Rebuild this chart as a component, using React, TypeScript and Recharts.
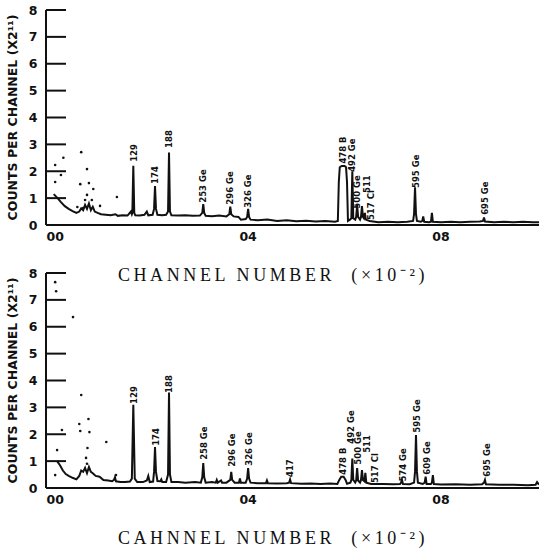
import { ComposedChart, Line, Scatter, XAxis, YAxis } from "recharts"

// channel, counts (x2^11)
type Pt = [number, number]
// channel, label centre height, text
type Peak = [number, number, string]

const X_TICKS = [0, 400, 800]
const X_TICK_LABELS: Record<number, string> = { 0: "00", 400: "04", 800: "08" }
const Y_TICKS = [0, 1, 2, 3, 4, 5, 6, 7, 8]

const TOP_SPECTRUM: Pt[] = [
  [-3, 1.15], [5, 1.0], [12, 0.85], [20, 0.7], [28, 0.6], [36, 0.52], [44, 0.45], [50, 0.5],
  [54, 0.62], [58, 0.55], [62, 0.75], [66, 0.6], [70, 0.8], [74, 0.55], [78, 0.68], [82, 0.5],
  [88, 0.45], [95, 0.4], [105, 0.38], [115, 0.36], [125, 0.4], [130, 0.34], [140, 0.36], [150, 0.35],
  [157, 0.5], [159, 0.4], [160, 0.45], [162, 2.2], [164, 0.45], [166, 0.36], [175, 0.35], [185, 0.38],
  [190, 0.5], [193, 0.36], [202, 0.38], [205, 0.6], [207, 1.45], [209, 0.6], [212, 0.38], [222, 0.36],
  [230, 0.38], [234, 0.5], [236, 2.7], [238, 0.5], [241, 0.36], [255, 0.35], [270, 0.36], [285, 0.34],
  [300, 0.35], [305, 0.45], [307, 0.78], [309, 0.45], [312, 0.34], [325, 0.33], [340, 0.35], [355, 0.32],
  [361, 0.4], [363, 0.68], [365, 0.4], [370, 0.32], [380, 0.3], [385, 0.2], [395, 0.22], [398, 0.3],
  [400, 0.6], [402, 0.3], [405, 0.2], [420, 0.18], [440, 0.2], [460, 0.15], [480, 0.18], [500, 0.14],
  [520, 0.16], [540, 0.13], [560, 0.15], [580, 0.12], [586, 0.15], [588, 1.6], [590, 2.15], [594, 2.2],
  [600, 2.2], [603, 2.15], [605, 1.6], [607, 0.15], [611, 0.2], [614, 0.25], [616, 2.0], [618, 0.25],
  [622, 0.2], [624, 0.3], [626, 0.75], [628, 0.3], [632, 0.2], [634, 0.3], [636, 0.7], [638, 0.3],
  [640, 0.25], [642, 0.45], [644, 0.2], [652, 0.15], [670, 0.1], [690, 0.12], [710, 0.1], [730, 0.12],
  [742, 0.15], [744, 0.4], [746, 1.4], [748, 0.4], [750, 0.15], [758, 0.12], [761, 0.15], [763, 0.32],
  [765, 0.12], [775, 0.1], [779, 0.12], [781, 0.45], [783, 0.12], [800, 0.1], [820, 0.12], [840, 0.1],
  [860, 0.12], [880, 0.13], [887, 0.15], [889, 0.28], [891, 0.13], [910, 0.1], [930, 0.12], [950, 0.1],
  [970, 0.12], [990, 0.1], [1003, 0.1],
]

const TOP_DOTS: Pt[] = [
  [0, 2.23], [12, 1.86], [0, 1.6], [17, 2.5], [54, 2.71], [66, 2.08], [52, 1.52], [70, 1.56],
  [79, 1.34], [66, 1.12], [76, 0.93], [93, 0.71], [128, 1.04], [46, 0.67], [58, 0.63], [62, 0.93],
]

const TOP_PEAKS: Peak[] = [
  [164, 2.68, "129"], [207, 1.86, "174"], [236, 3.2, "188"], [307, 1.45, "253 Ge"],
  [363, 1.38, "296 Ge"], [400, 1.26, "326 Ge"], [597, 2.79, "478 B"], [616, 2.6, "492 Ge"],
  [626, 1.23, "500 Ge"], [647, 1.52, "511"], [655, 0.74, "517 Cl"], [748, 2.0, "595 Ge"],
  [891, 1.0, "695 Ge"],
]

const BOTTOM_SPECTRUM: Pt[] = [
  [4, 1.0], [10, 0.85], [16, 0.65], [22, 0.52], [28, 0.45], [36, 0.38], [44, 0.32], [50, 0.45],
  [54, 0.65], [58, 0.6], [62, 0.75], [66, 0.55], [70, 0.78], [74, 0.6], [78, 0.55], [84, 0.45],
  [92, 0.42], [100, 0.3], [110, 0.28], [118, 0.25], [122, 0.3], [124, 0.4], [126, 0.25], [135, 0.22],
  [145, 0.22], [155, 0.24], [159, 0.35], [162, 3.1], [165, 0.35], [170, 0.22], [182, 0.22], [190, 0.28],
  [193, 0.45], [196, 0.22], [203, 0.24], [205, 0.6], [207, 1.52], [209, 0.6], [212, 0.26], [218, 0.25],
  [220, 0.32], [222, 0.22], [230, 0.22], [234, 0.5], [236, 3.55], [238, 0.5], [241, 0.22], [255, 0.22],
  [270, 0.2], [290, 0.22], [302, 0.2], [305, 0.4], [307, 0.93], [309, 0.4], [312, 0.2], [325, 0.22],
  [333, 0.2], [335, 0.3], [337, 0.2], [344, 0.28], [346, 0.2], [355, 0.2], [363, 0.3], [365, 0.6],
  [367, 0.3], [372, 0.2], [381, 0.2], [383, 0.35], [385, 0.2], [395, 0.2], [398, 0.35], [400, 0.74],
  [402, 0.35], [405, 0.2], [420, 0.18], [437, 0.18], [439, 0.28], [441, 0.18], [460, 0.17], [480, 0.18],
  [485, 0.2], [487, 0.32], [489, 0.18], [510, 0.16], [530, 0.17], [550, 0.15], [570, 0.17], [585, 0.15],
  [589, 0.3], [593, 0.42], [598, 0.42], [602, 0.3], [605, 0.16], [612, 0.2], [614, 0.3], [616, 1.1],
  [618, 0.3], [622, 0.2], [624, 0.28], [626, 0.74], [628, 0.28], [632, 0.2], [634, 0.3], [636, 0.67],
  [638, 0.3], [641, 0.25], [643, 0.56], [645, 0.2], [655, 0.15], [680, 0.15], [700, 0.14], [715, 0.15],
  [717, 0.2], [719, 0.3], [721, 0.15], [735, 0.14], [744, 0.2], [746, 0.6], [748, 1.97], [750, 0.6],
  [752, 0.2], [762, 0.15], [766, 0.2], [768, 0.42], [770, 0.15], [779, 0.15], [781, 0.2], [783, 0.48],
  [785, 0.15], [800, 0.13], [830, 0.14], [860, 0.12], [885, 0.14], [889, 0.2], [891, 0.3], [893, 0.14],
  [920, 0.12], [950, 0.12], [980, 0.1], [996, 0.12], [999, 0.22], [1003, 0.12],
]

const BOTTOM_DOTS: Pt[] = [
  [0, 7.66], [2, 7.32], [37, 6.36], [14, 2.16], [4, 1.41], [54, 3.46], [69, 2.57], [52, 2.12],
  [71, 2.08], [50, 2.38], [106, 1.71], [67, 1.49], [64, 1.12], [0, 0.48], [126, 0.48], [66, 0.9],
]

const BOTTOM_PEAKS: Peak[] = [
  [164, 3.46, "129"], [209, 1.9, "174"], [236, 3.87, "188"], [309, 1.67, "258 Ge"],
  [367, 1.41, "296 Ge"], [402, 1.45, "326 Ge"], [487, 0.74, "417"], [597, 1.0, "478 B"],
  [613, 2.27, "492 Ge"], [628, 1.49, "500 Ge"], [647, 1.64, "511"], [663, 0.74, "517 Cl"],
  [721, 0.86, "574 Ge"], [750, 2.68, "595 Ge"], [771, 1.12, "609 Ge"], [895, 1.04, "695 Ge"],
]

const INK = "#111"
const SANS = "'DejaVu Sans', sans-serif"
const SERIF = "'Liberation Serif', 'Times New Roman', serif"

const rows = (pts: Pt[]) => pts.map(([ch, v]) => ({ ch, v }))

function YTick({ x, y, payload }: any) {
  return (
    <g>
      <line x1={x} x2={x + 20} y1={y} y2={y} stroke={INK} strokeWidth={2} />
      <text x={x - 13} y={y} textAnchor="middle" dominantBaseline="central"
        fontFamily={SANS} fontWeight="bold" fontSize={12.5} fill={INK}>
        {payload.value}
      </text>
    </g>
  )
}

function XTick({ x, y, payload }: any) {
  return (
    <text x={x} y={y + 11} textAnchor="middle" dominantBaseline="central"
      fontFamily={SANS} fontWeight="bold" fontSize={12.5} fill={INK}>
      {X_TICK_LABELS[payload.value]}
    </text>
  )
}

function PeakLabel({ cx, cy, payload }: any) {
  return (
    <text x={cx} y={cy} transform={`rotate(-90 ${cx} ${cy})`} textAnchor="middle"
      dominantBaseline="central" fontFamily={SANS} fontWeight="bold" fontSize={8.5} fill={INK}>
      {payload.text}
    </text>
  )
}

function Dot({ cx, cy }: any) {
  return <circle cx={cx} cy={cy} r={1.3} fill={INK} />
}

interface PanelProps {
  spectrum: Pt[]
  dots: Pt[]
  peaks: Peak[]
  title: string
  top: number
}

function Panel({ spectrum, dots, peaks, title, top }: PanelProps) {
  const peakRows = peaks.map(([ch, v, text]) => ({ ch, v, text }))
  return (
    <div style={{ position: "absolute", left: 0, top }}>
      <ComposedChart width={539} height={290} margin={{ top: 10, right: 0, bottom: 0, left: 0 }}>
        <XAxis
          type="number"
          dataKey="ch"
          domain={[-19, 1003]}
          ticks={X_TICKS}
          tickSize={0}
          tickMargin={0}
          tickLine={false}
          tick={<XTick />}
          height={65}
          axisLine={{ stroke: INK, strokeWidth: 2 }}
          label={(p: any) => (
            <text x={p.viewBox.x + 227} y={p.viewBox.y + 50} textAnchor="middle"
              dominantBaseline="central" fontFamily={SERIF} fontSize={18}
              letterSpacing={3.6} fill={INK} style={{ whiteSpace: "pre" }}>
              {title}
            </text>
          )}
        />
        <YAxis
          type="number"
          domain={[0, 8]}
          ticks={Y_TICKS}
          width={46}
          tickSize={0}
          tickMargin={0}
          tickLine={false}
          tick={<YTick />}
          axisLine={{ stroke: INK, strokeWidth: 2 }}
          label={(p: any) => {
            const cx = 12
            const cy = p.viewBox.y + p.viewBox.height / 2
            return (
              <text x={cx} y={cy} transform={`rotate(-90 ${cx} ${cy})`} textAnchor="middle"
                dominantBaseline="central" fontFamily={SANS} fontWeight="bold"
                fontSize={12.5} fill={INK}>
                COUNTS PER CHANNEL (X2¹¹)
              </text>
            )
          }}
        />
        <Line data={rows(spectrum)} dataKey="v" type="linear" stroke={INK} strokeWidth={2}
          dot={false} isAnimationActive={false} />
        <Scatter data={rows(dots)} dataKey="v" shape={<Dot />} isAnimationActive={false} />
        <Scatter data={peakRows} dataKey="v" shape={<PeakLabel />} isAnimationActive={false} />
      </ComposedChart>
    </div>
  )
}

export default function App() {
  return (
    <div style={{ position: "absolute", left: 0, top: 0, width: 539, height: 557, background: "#fff" }}>
      <Panel spectrum={TOP_SPECTRUM} dots={TOP_DOTS} peaks={TOP_PEAKS}
        title={"CHANNEL NUMBER  (×10⁻²)"} top={0} />
      <Panel spectrum={BOTTOM_SPECTRUM} dots={BOTTOM_DOTS} peaks={BOTTOM_PEAKS}
        title={"CAHNNEL NUMBER  (×10⁻²)"} top={263} />
    </div>
  )
}
